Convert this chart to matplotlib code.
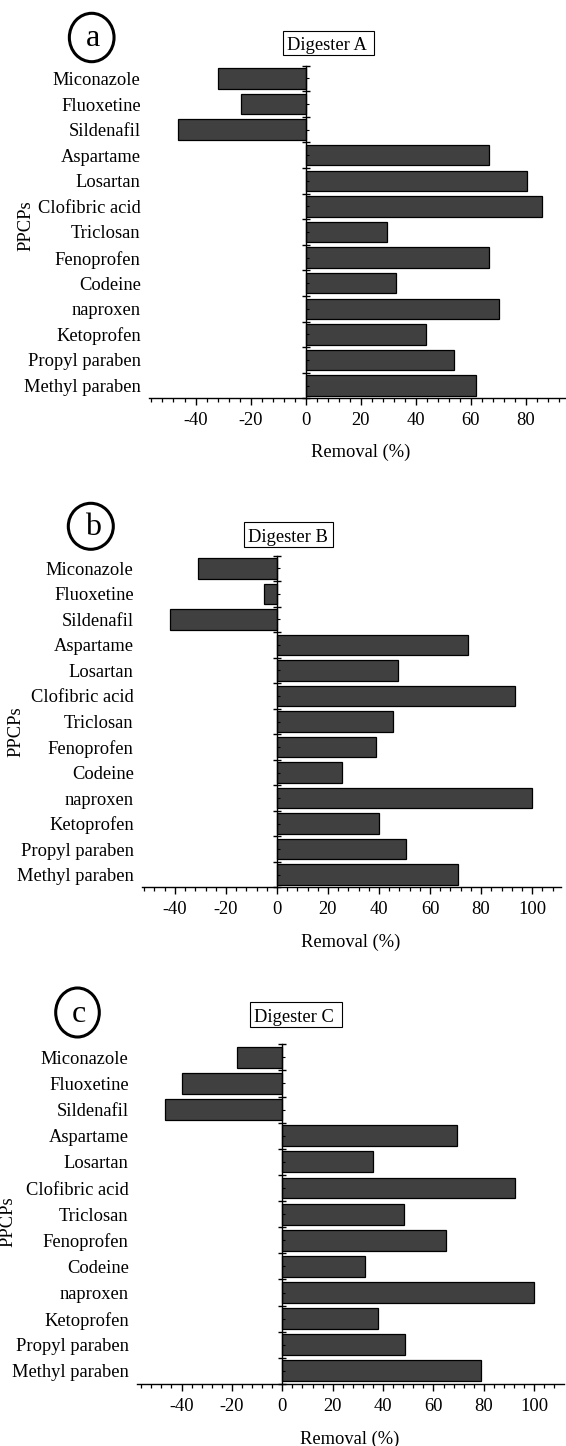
import matplotlib
matplotlib.use('Agg')
import numpy as np
import matplotlib.pyplot as plt
from matplotlib.patches import Ellipse, Rectangle
from matplotlib.ticker import MultipleLocator, FixedLocator

plt.rcParams['font.family'] = ['Liberation Serif', 'DejaVu Serif']
plt.rcParams['axes.unicode_minus'] = False

# PPCPs, listed top to bottom
compounds = ['Miconazole', 'Fluoxetine', 'Sildenafil', 'Aspartame', 'Losartan',
             'Clofibric acid', 'Triclosan', 'Fenoprofen', 'Codeine', 'naproxen',
             'Ketoprofen', 'Propyl paraben', 'Methyl paraben']

# removal (%) per digester
removal_a = [-31.7, -23.4, -46.3, 66.6, 80.5, 85.9, 29.4, 66.6, 32.8, 70.0, 43.5, 54.0, 61.8]
removal_b = [-30.8, -5.1, -42.1, 75.0, 47.4, 93.2, 45.5, 39.0, 25.6, 100.0, 40.0, 50.6, 70.8]
removal_c = [-18.1, -40.0, -46.6, 69.2, 35.9, 92.5, 48.3, 65.0, 32.9, 100.0, 37.9, 48.5, 78.7]

titles = ['Digester A', 'Digester B', 'Digester C']
letters = ['a', 'b', 'c']

W, H = 566, 1446
fig = plt.figure(figsize=(W / 100, H / 100), dpi=100)
FS = 13.3

# layout in pixels (measured from the top-left corner)
panels = [
    dict(data=removal_a, box=(283, 30.7, 374, 55.3), title_xy=(327.3, 50),
         axes=(148.7, 65.7, 566, 398.3), xlim=(-57, 94.5),
         circle=(91.7, 37.5, 44.7, 48.4), letter_xy=(92.7, 45.7),
         ylab_xy=(26.4, 225.3), xlab_xy=(360.5, 457.3)),
    dict(data=removal_b, box=(243.7, 522.3, 333.3, 547.3), title_xy=(287.5, 541.7),
         axes=(141.7, 555.7, 561, 887.3), xlim=(-53, 111.3),
         circle=(90.8, 526.3, 45, 46), letter_xy=(92.7, 535),
         ylab_xy=(15.6, 731.7), xlab_xy=(351, 947.3)),
    dict(data=removal_c, box=(250.3, 1001.7, 341.7, 1027.3), title_xy=(294.3, 1021.7),
         axes=(136.7, 1044.3, 564, 1384), xlim=(-57.8, 111.8),
         circle=(77.5, 1012.5, 43.6, 49), letter_xy=(78.8, 1021.7),
         ylab_xy=(8.3, 1222), xlab_xy=(349.8, 1444)),
]


def fx(x):
    return x / W


def fy(y):
    return 1 - y / H


y = np.arange(len(compounds))

for p, title, letter in zip(panels, titles, letters):
    l, t, r, b = p['axes']
    ax = fig.add_axes([fx(l), fy(b), (r - l) / W, (b - t) / H])
    ax.barh(y, p['data'], height=0.8, color='#404040', edgecolor='black', linewidth=0.9)
    ax.set_ylim(len(compounds) - 0.5, -0.5)
    ax.set_xlim(*p['xlim'])

    ax.spines['top'].set_visible(False)
    ax.spines['right'].set_visible(False)
    ax.spines['left'].set_position(('data', 0))
    ax.spines['left'].set_linewidth(1.0)
    ax.spines['bottom'].set_linewidth(1.0)

    ax.xaxis.set_major_locator(MultipleLocator(20))
    ax.xaxis.set_minor_locator(MultipleLocator(4))
    ax.tick_params(axis='x', which='major', direction='out', length=5, width=1,
                   pad=5, labelsize=FS)
    ax.tick_params(axis='x', which='minor', direction='out', length=2.8, width=0.9)

    ax.yaxis.set_major_locator(FixedLocator(np.arange(-0.5, len(compounds), 1)))
    ax.yaxis.set_minor_locator(FixedLocator(y))
    ax.tick_params(axis='y', which='major', direction='inout', length=5.5, width=1,
                   labelleft=False)
    ax.tick_params(axis='y', which='minor', direction='in', length=2, width=0.8)

    # compound names sit at the left end of the x axis
    names = ax.secondary_yaxis(0.0)
    names.set_yticks(y, labels=compounds)
    names.spines['left'].set_visible(False)
    names.tick_params(length=0, pad=5.8, labelsize=FS)

    # title box
    bx0, by0, bx1, by1 = p['box']
    fig.add_artist(Rectangle((fx(bx0), fy(by1)), (bx1 - bx0) / W, (by1 - by0) / H,
                             transform=fig.transFigure, fill=False, ec='black', lw=0.8))
    fig.text(fx(p['title_xy'][0]), fy(p['title_xy'][1]), title, ha='center',
             va='baseline', fontsize=FS)

    # panel letter in a circle
    cx, cy, cw, ch = p['circle']
    fig.add_artist(Ellipse((fx(cx), fy(cy)), cw / W, ch / H, transform=fig.transFigure,
                           fill=False, ec='black', lw=2.2))
    fig.text(fx(p['letter_xy'][0]), fy(p['letter_xy'][1]), letter, ha='center',
             va='baseline', fontsize=23)

    fig.text(fx(p['ylab_xy'][0]), fy(p['ylab_xy'][1]), 'PPCPs', rotation=90,
             ha='center', va='center', fontsize=FS)
    fig.text(fx(p['xlab_xy'][0]), fy(p['xlab_xy'][1]), 'Removal (%)', ha='center',
             va='baseline', fontsize=FS)

fig.savefig('out.png', dpi=100)
